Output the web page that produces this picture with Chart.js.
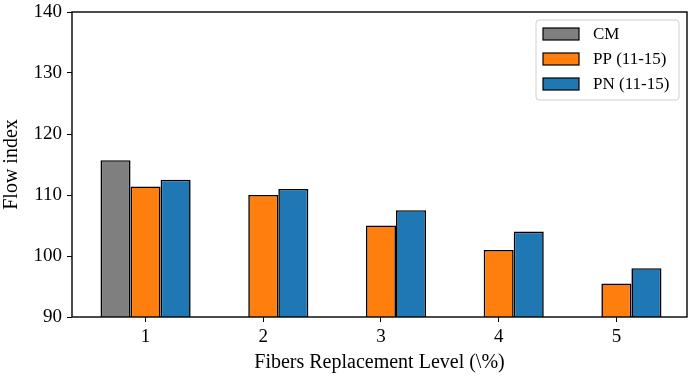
<!DOCTYPE html>
<html>
<head>
<meta charset="utf-8">
<script src="https://cdn.jsdelivr.net/npm/chart.js@4.4.0/dist/chart.umd.min.js"></script>
<style>
  html, body { margin: 0; padding: 0; background: #fff; }
  #wrap { width: 693px; height: 380px; }
</style>
</head>
<body>
<div id="wrap"><canvas id="flowChart" width="693" height="380"></canvas></div>
<script>
// 그림에서 읽은 값들
const levels = [1, 2, 3, 4, 5];
const cmValues = [115.7, null, null, null, null];
const ppValues = [111.4, 110.0, 105.0, 101.0, 95.5];
const pnValues = [112.5, 111.0, 107.5, 104.0, 98.0];
const yTicks = [90, 100, 110, 120, 130, 140];

const serif = "'Liberation Serif', 'DejaVu Serif', serif";

function toPoints(values) {
    return levels.map((lv, i) => ({ x: lv, y: values[i] }));
}

// 플롯 테두리 (matplotlib 스타일 박스)
const frame = {
    id: 'frame',
    afterDatasetsDraw(chart) {
        const a = chart.chartArea;
        const ctx = chart.ctx;
        ctx.save();
        ctx.strokeStyle = '#000';
        ctx.lineWidth = 1.4;
        ctx.strokeRect(a.left, a.top, a.right - a.left, a.bottom - a.top);
        ctx.restore();
    }
};

// 오른쪽 위 범례
const boxLegend = {
    id: 'boxLegend',
    afterDraw(chart) {
        const ctx = chart.ctx;
        const x = 536, y = 20, w = 143, h = 80;
        ctx.save();
        ctx.beginPath();
        ctx.roundRect(x, y, w, h, 3);
        ctx.fillStyle = 'rgba(255,255,255,0.8)';
        ctx.fill();
        ctx.strokeStyle = '#d0d0d0';
        ctx.lineWidth = 1;
        ctx.stroke();
        ctx.font = '17px ' + serif;
        ctx.textBaseline = 'middle';
        chart.data.datasets.forEach((ds, i) => {
            const cy = 34 + i * 25;
            ctx.fillStyle = ds.backgroundColor;
            ctx.fillRect(543, cy - 6, 36, 12);
            ctx.strokeStyle = '#000';
            ctx.lineWidth = 1.2;
            ctx.strokeRect(543, cy - 6, 36, 12);
            ctx.fillStyle = '#000';
            ctx.fillText(ds.label, 593, cy + 1);
        });
        ctx.restore();
    }
};

const ctx = document.getElementById('flowChart').getContext('2d');

new Chart(ctx, {
    type: 'bar',
    data: {
        datasets: [
            { label: 'CM', data: toPoints(cmValues), backgroundColor: '#7f7f7f' },
            { label: 'PP (11-15)', data: toPoints(ppValues), backgroundColor: '#ff7f0e' },
            { label: 'PN (11-15)', data: toPoints(pnValues), backgroundColor: '#1f77b4' }
        ].map(d => Object.assign(d, {
            borderColor: '#000',
            borderWidth: 1.6,
            borderSkipped: 'start',
            categoryPercentage: 0.766,
            barPercentage: 1.0
        }))
    },
    options: {
        responsive: false,
        animation: false,
        layout: { padding: { left: 0, right: 6, top: 12, bottom: 0 } },
        plugins: {
            legend: { display: false },
            tooltip: { enabled: false }
        },
        scales: {
            x: {
                type: 'linear',
                offset: false,
                min: 0.375,
                max: 5.6,
                afterBuildTicks: scale => { scale.ticks = levels.map(v => ({ value: v })); },
                afterFit: scale => { scale.height = 63; scale.paddingLeft = 0; scale.paddingRight = 0; },
                grid: { display: true, drawOnChartArea: false, drawTicks: true, tickLength: 5, color: '#000', offset: false },
                border: { display: false },
                ticks: { color: '#000', font: { family: serif, size: 19 }, padding: 4, maxRotation: 0 },
                title: {
                    display: true,
                    text: 'Fibers Replacement Level (\\%)',
                    color: '#000',
                    font: { family: serif, size: 20 },
                    padding: { top: 0, bottom: 5 }
                }
            },
            y: {
                min: 90,
                max: 140,
                afterBuildTicks: scale => { scale.ticks = yTicks.map(v => ({ value: v })); },
                afterFit: scale => { scale.width = 72; scale.paddingTop = 0; scale.paddingBottom = 0; },
                grid: { display: true, drawOnChartArea: false, drawTicks: true, tickLength: 5, color: '#000' },
                border: { display: false },
                ticks: { color: '#000', font: { family: serif, size: 19 }, padding: 5 },
                title: {
                    display: true,
                    text: 'Flow index',
                    color: '#000',
                    font: { family: serif, size: 20 },
                    padding: { top: 0, bottom: 0 }
                }
            }
        }
    },
    plugins: [frame, boxLegend]
});
</script>
</body>
</html>
